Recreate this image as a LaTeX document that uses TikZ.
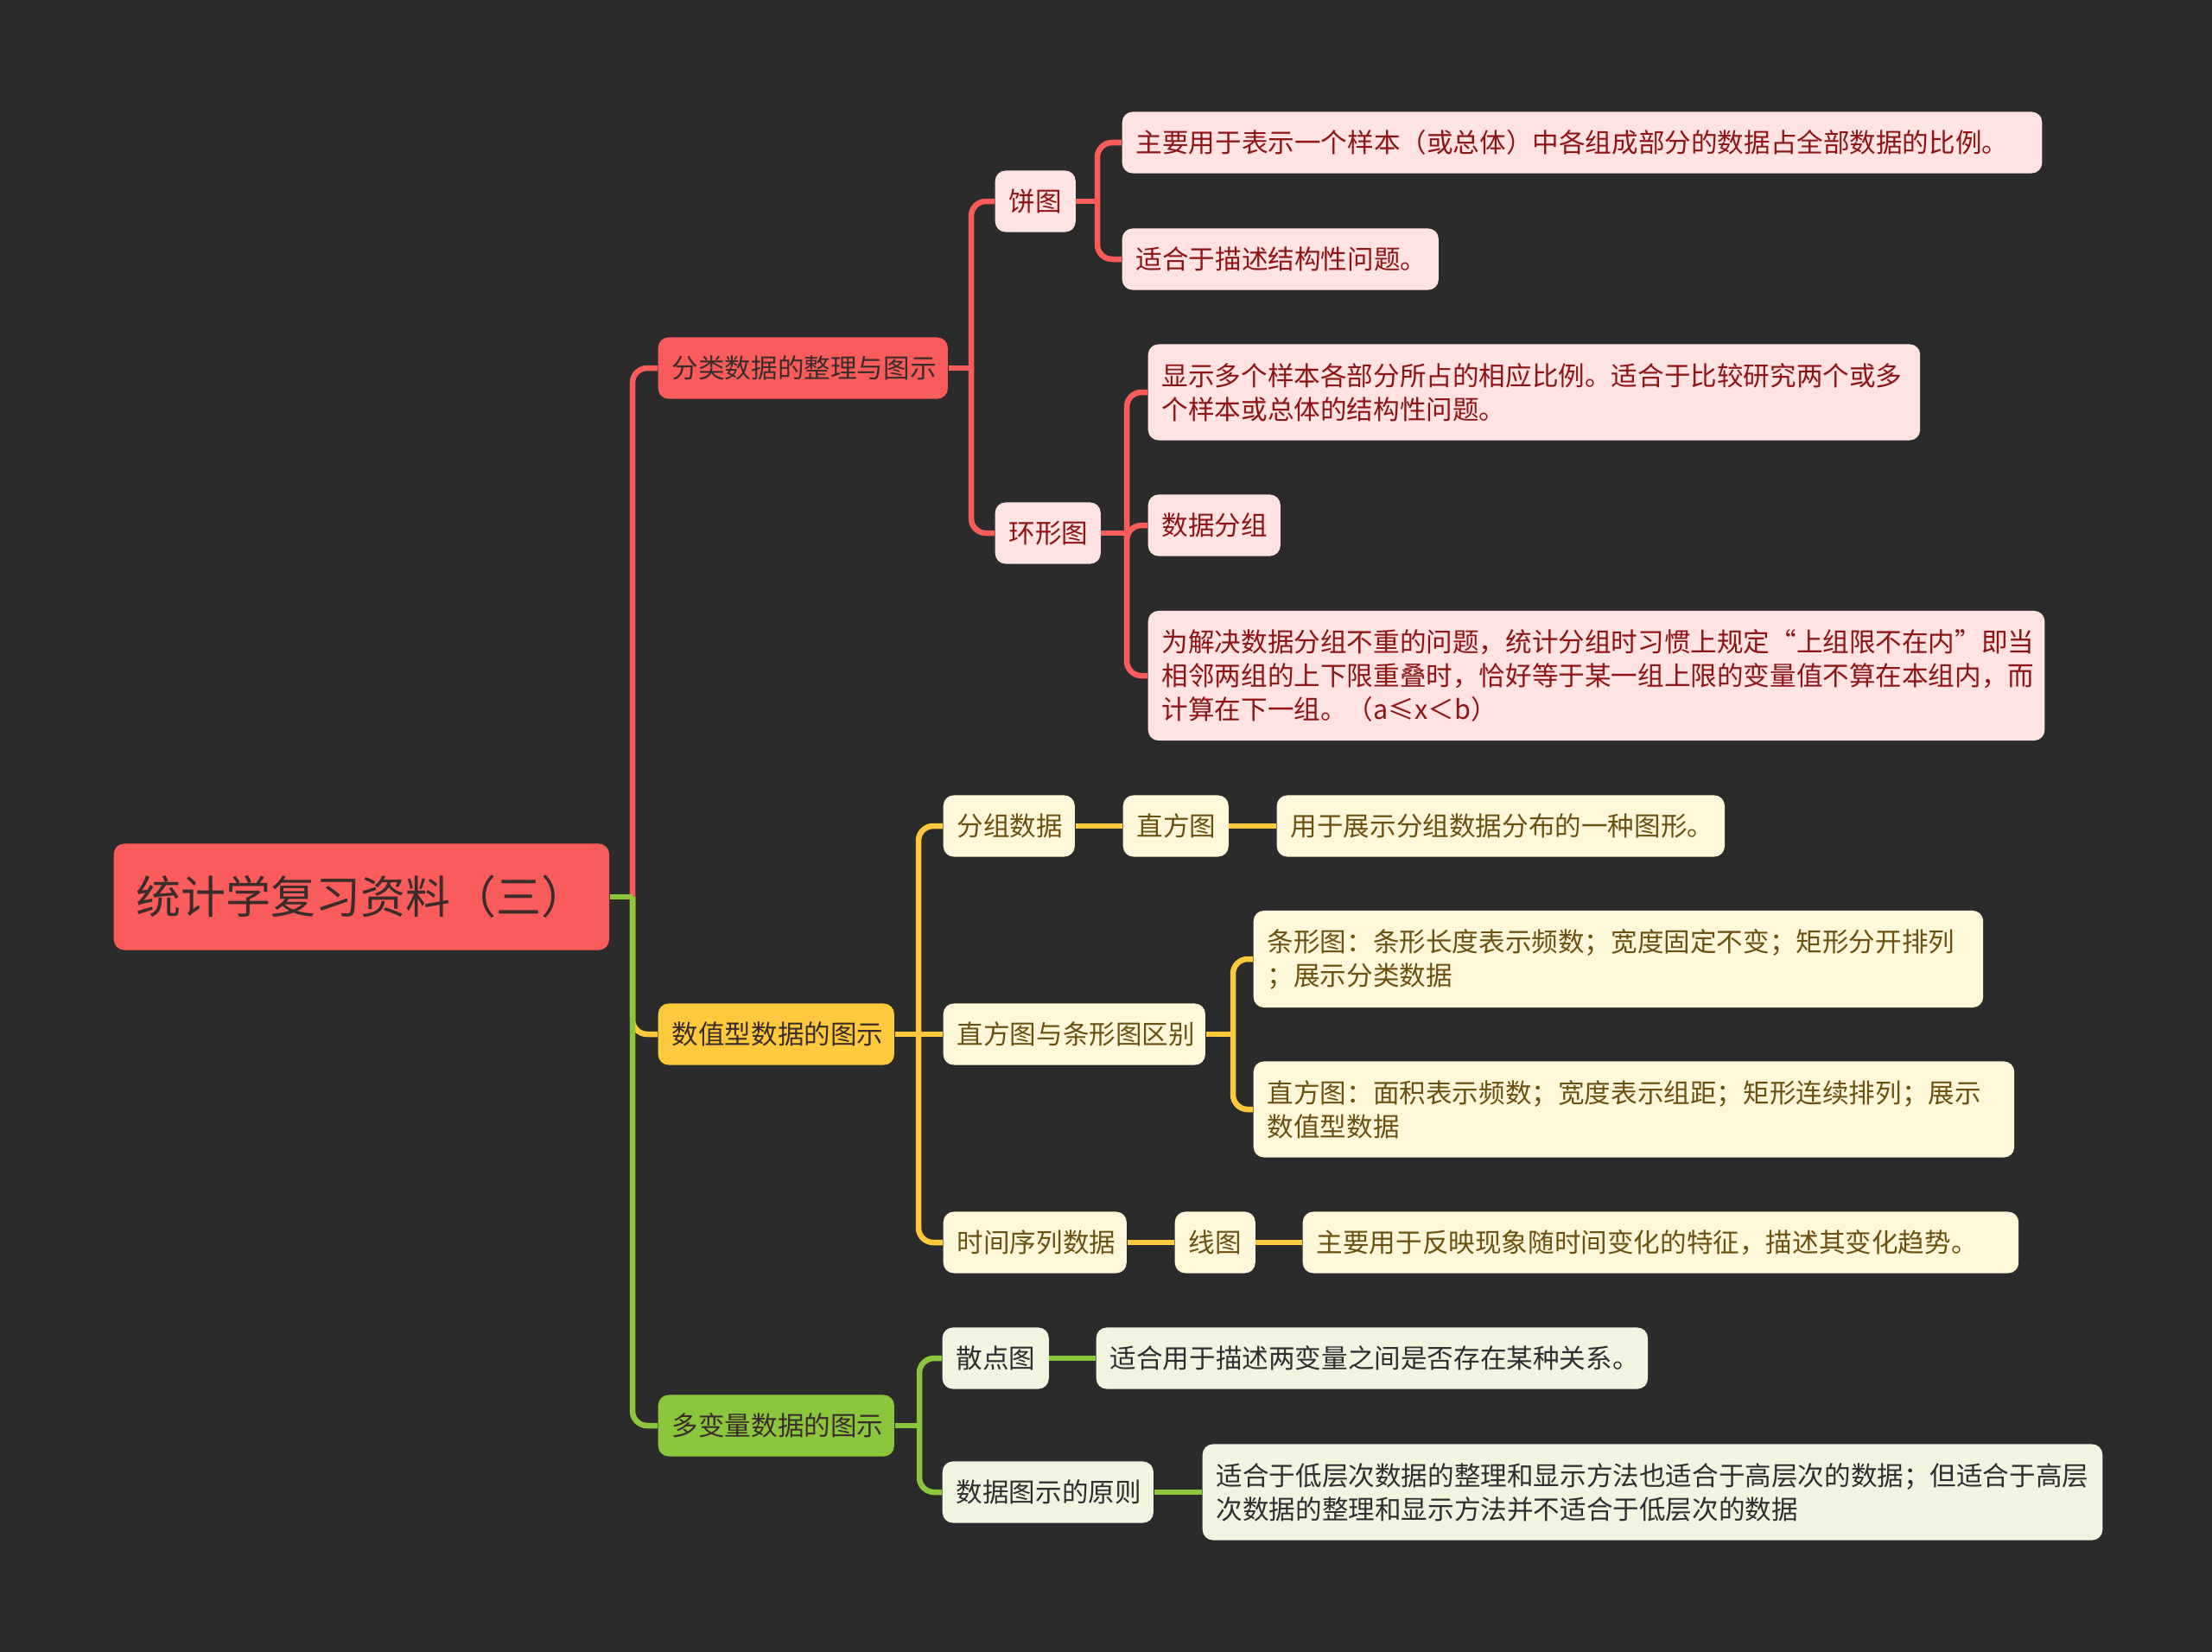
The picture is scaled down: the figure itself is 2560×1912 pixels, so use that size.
\documentclass[tikz,border=0pt]{standalone}
\usepackage{fontspec}
\newfontfamily\cjk{Noto Sans CJK SC}
\usetikzlibrary{positioning}
\definecolor{bgc}{HTML}{2B2B2B}
\definecolor{redc}{HTML}{FA5B5B}
\definecolor{yelc}{HTML}{FFC93D}
\definecolor{grnc}{HTML}{8CC63C}
\definecolor{pinkc}{HTML}{FFE2E2}
\definecolor{creamc}{HTML}{FFF7DA}
\definecolor{lgrnc}{HTML}{EFF5DF}
\definecolor{ink}{HTML}{3A2C2C}
\definecolor{redtxt}{HTML}{8E1414}
\definecolor{yeltxt}{HTML}{6B5012}
\definecolor{grntxt}{HTML}{2E2E2E}

\begin{document}
\begin{tikzpicture}[x=0.01cm, y=-0.01cm, font=\cjk\fontsize{8.7}{11.1}\selectfont,
  box/.style={anchor=west, align=left, rounded corners=0.12cm, inner xsep=0.16cm, inner ysep=0.04cm, minimum height=0.71cm},
  topic/.style={box, fill=redc, text=ink, inner xsep=0.26cm, minimum height=1.23cm, font=\cjk\fontsize{14.8}{17}\selectfont},
  redm/.style={box, fill=redc, text=ink},
  yelm/.style={box, fill=yelc, text=ink},
  grnm/.style={box, fill=grnc, text=ink},
  redl/.style={box, fill=pinkc, text=redtxt},
  yell/.style={box, fill=creamc, text=yeltxt},
  grnl/.style={box, fill=lgrnc, text=grntxt},
  wire/.style={draw=#1, line width=0.065cm, rounded corners=0.17cm}]
\fill[bgc] (0,0) rectangle (2560,1912);
\useasboundingbox (0,0) rectangle (2560,1912);

\node[topic, text width=5.21cm] (root) at (131,1038) {统计学复习资料（三）};

\node[redm, text width=3.03cm] (a1) at (761,426) {分类数据的整理与图示};
\node[yelm, text width=2.41cm] (a2) at (761,1197) {数值型数据的图示};
\node[grnm, text width=2.41cm] (a3) at (761,1650) {多变量数据的图示};

\node[redl, text width=0.61cm] (b1) at (1151,233) {饼图};
\node[redl, text width=0.90cm] (b2) at (1151,617) {环形图};
\node[redl, text width=10.32cm] (c1) at (1298,165) {主要用于表示一个样本（或总体）中各组成部分的数据占全部数据的比例。};
\node[redl, text width=3.34cm] (c2) at (1298,300) {适合于描述结构性问题。};
\node[redl, text width=8.61cm, minimum height=1.11cm] (c3) at (1328,454) {显示多个样本各部分所占的相应比例。适合于比较研究两个或多\\个样本或总体的结构性问题。};
\node[redl, text width=1.21cm] (c4) at (1328,608) {数据分组};
\node[redl, text width=10.05cm, minimum height=1.50cm] (c5) at (1328,782) {为解决数据分组不重的问题，统计分组时习惯上规定“上组限不在内”即当\\相邻两组的上下限重叠时，恰好等于某一组上限的变量值不算在本组内，而\\计算在下一组。（a≤x＜b）};

\node[yell, text width=1.20cm] (b3) at (1091,956) {分组数据};
\node[yell, text width=2.71cm] (b4) at (1091,1197) {直方图与条形图区别};
\node[yell, text width=1.80cm] (b5) at (1091,1438) {时间序列数据};
\node[yell, text width=0.90cm] (d1) at (1299,956) {直方图};
\node[yell, text width=4.86cm] (d2) at (1477,956) {用于展示分组数据分布的一种图形。};
\node[yell, text width=8.12cm, minimum height=1.12cm] (d3) at (1450,1110) {条形图：条形长度表示频数；宽度固定不变；矩形分开排列\\；展示分类数据};
\node[yell, text width=8.48cm, minimum height=1.11cm] (d4) at (1450,1284) {直方图：面积表示频数；宽度表示组距；矩形连续排列；展示\\数值型数据};
\node[yell, text width=0.61cm] (d5) at (1359,1438) {线图};
\node[yell, text width=7.96cm] (d6) at (1507,1438) {主要用于反映现象随时间变化的特征，描述其变化趋势。};

\node[grnl, text width=0.91cm] (b6) at (1090,1572) {散点图};
\node[grnl, text width=2.12cm] (b7) at (1090,1727) {数据图示的原则};
\node[grnl, text width=6.06cm] (d7) at (1268,1572) {适合用于描述两变量之间是否存在某种关系。};
\node[grnl, text width=10.09cm, minimum height=1.11cm] (d8) at (1391,1727) {适合于低层次数据的整理和显示方法也适合于高层次的数据；但适合于高层\\次数据的整理和显示方法并不适合于低层次的数据};

\coordinate (jr) at (732,1038);
\coordinate (ja) at (1124,426);
\coordinate (jb1) at (1270,233);
\coordinate (jb2) at (1304,617);
\coordinate (jy) at (1063,1197);
\coordinate (jb4) at (1427,1197);
\coordinate (jg) at (1064,1650);

\draw[wire=redc] (jr) |- (a1.west);
\draw[wire=yelc] (jr) |- (a2.west);
\draw[wire=grnc] (root.east) -- (jr);
\draw[wire=grnc] (jr) |- (a3.west);

\foreach \p/\j in {a1/ja, b1/jb1, b2/jb2} \draw[wire=redc] (\p.east) -- (\j);
\foreach \j/\k in {ja/b1, ja/b2, jb1/c1, jb1/c2, jb2/c3, jb2/c4, jb2/c5} \draw[wire=redc] (\j) |- (\k.west);

\foreach \p/\j in {a2/jy, b4/jb4} \draw[wire=yelc] (\p.east) -- (\j);
\draw[wire=yelc] (jy) -- (b4.west);
\foreach \j/\k in {jy/b3, jy/b5, jb4/d3, jb4/d4} \draw[wire=yelc] (\j) |- (\k.west);
\foreach \p/\k in {b3/d1, d1/d2, b5/d5, d5/d6} \draw[wire=yelc] (\p) -- (\k);

\draw[wire=grnc] (a3.east) -- (jg);
\foreach \k in {b6, b7} \draw[wire=grnc] (jg) |- (\k.west);
\foreach \p/\k in {b6/d7, b7/d8} \draw[wire=grnc] (\p) -- (\k);
\end{tikzpicture}
\end{document}
